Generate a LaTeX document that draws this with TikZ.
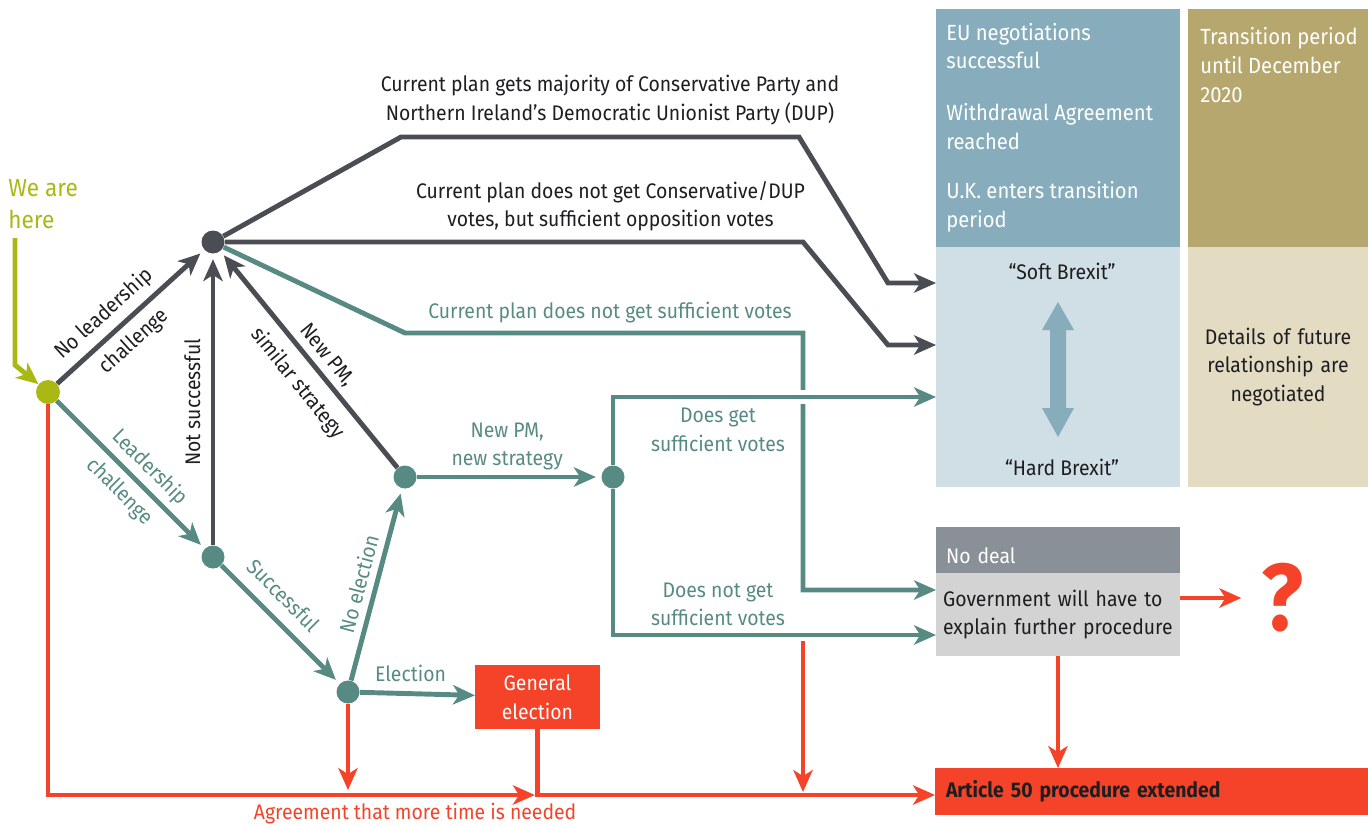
\documentclass[tikz,border=0pt]{standalone}
\usepackage{fontspec}
\setmainfont{Fira Sans}[FakeStretch=0.92]
\usetikzlibrary{arrows.meta}
\definecolor{darkline}{RGB}{74,78,84}
\definecolor{tealc}{RGB}{88,138,132}
\definecolor{redc}{RGB}{244,67,40}
\definecolor{limec}{RGB}{169,184,18}
\definecolor{eublue}{RGB}{135,173,189}
\definecolor{softblue}{RGB}{208,223,229}
\definecolor{gold}{RGB}{182,167,110}
\definecolor{lightgold}{RGB}{227,220,195}
\definecolor{ndgray}{RGB}{138,144,151}
\definecolor{lgray}{RGB}{211,211,211}
\definecolor{ink}{RGB}{30,30,32}
\tikzset{
  dot/.style={circle, inner sep=0pt, minimum size=0.46cm},
  conn/.style={line width=2.8pt, -{Stealth[length=12.5pt, width=11pt, inset=3.5pt]}},
  lbl/.style={inner sep=0pt, text height=9pt, text depth=2.8pt},
  lbl2/.style={inner sep=0pt, align=center},
  boxtxt/.style={inner sep=0pt, anchor=west, align=left, text=white, font=\fontsize{12.5pt}{16.4pt}\selectfont},
  box/.style={anchor=north west, inner sep=0pt, outer sep=0pt}
}

\begin{document}
\begin{tikzpicture}[x=0.02cm, y=-0.02cm, every node/.style={font=\fontsize{12pt}{16.2pt}\selectfont}]
\useasboundingbox (0,0) rectangle (1368,825);

\node[box, fill=eublue, minimum width=4.88cm, minimum height=4.76cm] (eu) at (936,9) {};
\node[box, fill=softblue, minimum width=4.88cm, minimum height=4.8cm] (soft) at (936,247) {};
\node[box, fill=gold, minimum width=3.6cm, minimum height=4.76cm] (trans) at (1188,9) {};
\node[box, fill=lightgold, minimum width=3.6cm, minimum height=4.8cm, text width=3.6cm, align=center, text=ink] (details) at (1188,247) {Details of future\\relationship are\\negotiated};
\node[box, fill=ndgray, minimum width=4.88cm, minimum height=0.92cm, inner xsep=0.2cm, text width=4.48cm, align=left, text=white, text height=15.2pt, text depth=0pt] (ndhead) at (936,527) {No deal};
\node[box, fill=lgray, minimum width=4.88cm, minimum height=1.66cm, inner xsep=0.14cm, text width=4.6cm, align=left, text=ink] (nodeal) at (936,573) {Government will have to\\explain further procedure};
\node[box, fill=redc, minimum width=8.66cm, minimum height=0.94cm, inner xsep=0.22cm, text width=8.22cm, align=left, text=ink, font=\fontsize{12pt}{16.2pt}\selectfont\bfseries] (art) at (935,768) {Article 50 procedure extended};
\node[box, fill=redc, minimum width=2.5cm, minimum height=1.28cm, text width=2.5cm, align=center, text=white] (genel) at (475,665) {General\\election};

\node[boxtxt] (eua) at (946,46) {EU negotiations\\successful};
\node[boxtxt] (eub) at (946,126.5) {Withdrawal Agreement\\reached};
\node[boxtxt] (euc) at (946,207) {U.K. enters transition\\period};
\node[boxtxt] (transtxt) at (1200,65) {Transition period\\until December\\2020};
\node[text=ink] (softtxt) at (1062,271) {“Soft Brexit”};
\node[text=ink] (hardtxt) at (1062,467) {“Hard Brexit”};
\fill[eublue] (1058,302) -- (1074,330) -- (1066,330) -- (1066,408) -- (1074,408) -- (1058,437)
  -- (1042,408) -- (1050,408) -- (1050,330) -- (1042,330) -- cycle;
\node[inner sep=0pt, text=redc, font=\fontsize{54pt}{54pt}\selectfont\bfseries] (qm) at (1282,598) {?};

\node[anchor=west, align=left, inner sep=0pt, text=limec, font=\fontsize{14pt}{18pt}\selectfont] (herelbl) at (8,204) {We are\\here};
\node[dot, fill=limec, minimum size=0.48cm] (here) at (48,392) {};
\node[dot, fill=darkline] (keep) at (213,242) {};
\node[dot, fill=tealc] (lead) at (213,557) {};
\node[dot, fill=tealc] (elec) at (348,692) {};
\node[dot, fill=tealc] (newpm) at (405,477) {};
\node[dot, fill=tealc] (vote) at (613,477) {};

\coordinate (htop) at (15,238);
\coordinate (hbend) at (15,365);
\coordinate (t1) at (401,137);
\coordinate (t2) at (799,137);
\coordinate (t3) at (888,283);
\coordinate (m1) at (803,242);
\coordinate (m2) at (888,345);
\coordinate (c1) at (405,333);
\coordinate (c2) at (803,333);
\coordinate (c3) at (803,590);
\coordinate (vtop) at (613,397);
\coordinate (vbot) at (613,635);
\coordinate (gapl) at (794,397);
\coordinate (gapr) at (812,397);
\coordinate (rbot) at (48,795);
\coordinate (gbot) at (genel.south |- rbot);
\coordinate (edown) at (348,790);
\coordinate (ra) at (803,641);
\coordinate (rb) at (803,792);

\draw[conn, limec] (htop) -- (hbend) -- (here);
\draw[conn, darkline] (keep) -- (t1) -- node[lbl2, text=ink, above=5.5pt, pos=0.525] {Current plan gets majority of Conservative Party and\\Northern Ireland’s Democratic Unionist Party (DUP)} (t2) -- (t3) -- (soft.west |- t3);
\draw[conn, darkline] (keep) -- node[lbl2, text=ink, above=4.7pt, pos=0.667] {Current plan does not get Conservative/DUP\\votes, but sufficient opposition votes} (m1) -- (m2) -- (soft.west |- m2);
\draw[conn, tealc] (keep) -- (c1) -- node[lbl, above=4.3pt, pos=0.515] {Current plan does not get sufficient votes} (c2) -- (c3) -- (nodeal.west |- c3);
\draw[white, line width=8pt] (gapl) -- (gapr);
\draw[conn, tealc] (vote) -- (vtop) -- node[lbl2, below=5pt, pos=0.325] {Does get\\sufficient votes} (soft.west |- vtop);
\draw[conn, tealc] (vote) -- (vbot) -- node[lbl2, above=3.6pt, pos=0.325] {Does not get\\sufficient votes} (nodeal.west |- vbot);

\draw[conn, darkline, shorten >=3pt] (here) -- node[lbl, text=ink, sloped, above=3.7pt, pos=0.41] {No leadership} node[lbl, text=ink, sloped, below=4.7pt, pos=0.43] {challenge} (keep);
\draw[conn, tealc, shorten >=3pt] (here) -- node[lbl, sloped, above=2.9pt, pos=0.54] {Leadership} node[lbl, sloped, below=4.3pt, pos=0.52] {challenge} (lead);
\draw[conn, darkline, shorten >=3pt] (lead) -- node[lbl, text=ink, sloped, above=3.2pt, pos=0.49] {Not successful} (keep);
\draw[conn, darkline, shorten >=3pt] (newpm) -- node[lbl, text=ink, sloped, above=2pt, pos=0.47] {New PM,} node[lbl, text=ink, sloped, below=6.6pt, pos=0.46] {similar strategy} (keep);
\draw[conn, tealc, shorten >=3pt] (lead) -- node[lbl, sloped, above=4.5pt, pos=0.39] {Successful} (elec);
\draw[conn, tealc, shorten >=3pt] (elec) -- node[lbl, sloped, above=1.2pt, pos=0.48] {No election} (newpm);
\draw[conn, tealc, shorten >=3pt] (newpm) -- node[lbl2, above=2.4pt, pos=0.49] {New PM,\\new strategy} (vote);
\draw[conn, tealc] (elec) -- node[lbl, above=3pt, pos=0.44] {Election} (genel);

\draw[conn, redc, shorten >=1.5pt] (here) -- (rbot) -- node[lbl, below=3.7pt, pos=0.75] {Agreement that more time is needed} (gbot);
\draw[conn, redc] (genel) -- (gbot) -- (art.west |- gbot);
\draw[conn, redc] (elec) -- (edown);
\draw[conn, redc] (ra) -- (rb);
\draw[conn, redc, shorten >=11pt] (nodeal.east |- qm.west) -- (qm.west);
\draw[conn, redc] (nodeal) -- (art.north -| nodeal.south);
\end{tikzpicture}
\end{document}
